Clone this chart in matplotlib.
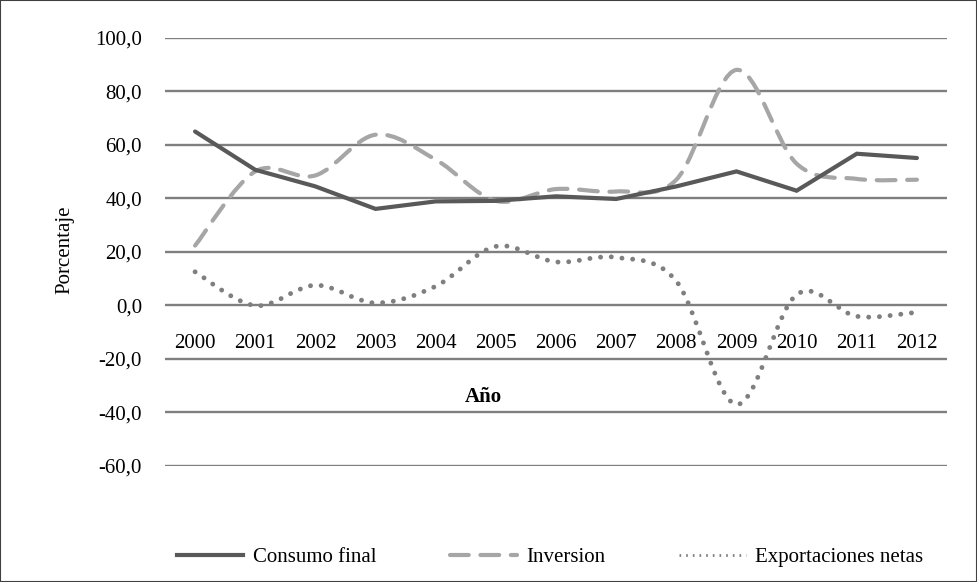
import numpy as np
import matplotlib
matplotlib.use("Agg")
import matplotlib.pyplot as plt
from matplotlib.path import Path
from matplotlib.patches import PathPatch, Rectangle
from matplotlib.lines import Line2D
from matplotlib.ticker import FuncFormatter, FixedLocator

years = ["2000", "2001", "2002", "2003", "2004", "2005", "2006",
         "2007", "2008", "2009", "2010", "2011", "2012"]
consumo = [64.9, 50.6, 44.4, 36.0, 38.8, 39.0, 40.7, 39.7, 44.4, 50.0, 42.8, 56.6, 55.0]
inversion = [22.3, 50.0, 48.5, 63.7, 54.4, 39.0, 43.4, 42.5, 46.9, 87.9, 52.9, 47.2, 46.9]
exportaciones = [12.5, -0.1, 7.5, 0.9, 7.1, 22.0, 16.2, 17.9, 9.0, -37.0, 4.0, -4.1, -2.6]

plt.rcParams['font.family'] = ['Liberation Serif', 'DejaVu Serif']
fs = 15


def smooth_path(xs, ys):
    # Bezier path through the points, like an Excel "smoothed line"
    pts = np.column_stack([xs, ys]).astype(float)
    n = len(pts)
    verts = [pts[0]]
    codes = [Path.MOVETO]
    for i in range(n - 1):
        p0 = pts[max(i - 1, 0)]
        p1 = pts[i]
        p2 = pts[i + 1]
        p3 = pts[min(i + 2, n - 1)]
        c1 = p1 + (p2 - p0) / 6.0
        c2 = p2 - (p3 - p1) / 6.0
        verts += [c1, c2, p2]
        codes += [Path.CURVE4] * 3
    return Path(verts, codes)


fig = plt.figure(figsize=(9.77, 5.82), dpi=100)
ax = fig.add_axes([165 / 977, 1 - 466 / 582, 782 / 977, (466 - 37.5) / 582])

x = np.arange(len(years))

grid_c = '#7f7f7f'
for v in range(-60, 101, 20):
    ax.axhline(v, color=grid_c, lw=1.7, zorder=1)

c_cons = '#595959'
c_inv = '#a6a6a6'
c_exp = '#7f7f7f'
lw = 3.0
dash_inv = (0, (4.5, 2.8))
dot_exp = (0, (0.01, 2.2))

ax.plot(x, consumo, color=c_cons, lw=lw, solid_capstyle='round',
        solid_joinstyle='miter', zorder=4)

p_inv = PathPatch(smooth_path(x, inversion), facecolor='none', edgecolor=c_inv,
                  lw=lw, linestyle=dash_inv, capstyle='round', zorder=3)
ax.add_patch(p_inv)
p_exp = PathPatch(smooth_path(x, exportaciones), facecolor='none', edgecolor=c_exp,
                  lw=3.5, linestyle=dot_exp, capstyle='round', zorder=3)
ax.add_patch(p_exp)

ax.set_xlim(-0.5, len(years) - 0.5)
ax.set_ylim(-60, 100)

ax.yaxis.set_major_locator(FixedLocator(range(-60, 101, 20)))
ax.yaxis.set_major_formatter(FuncFormatter(lambda v, p: f"{v:.1f}".replace('.', ',')))
ax.set_xticks(x)
ax.set_xticklabels(years)
ax.spines['bottom'].set_position(('data', 0))
for s in ax.spines.values():
    s.set_visible(False)
ax.tick_params(axis='y', length=0, pad=16.5, labelsize=fs, colors='black')
ax.tick_params(axis='x', length=0, pad=21, labelsize=fs, colors='black')

fig.text(65 / 977, 1 - 250 / 582, 'Porcentaje', rotation=90, ha='center', va='center',
         fontsize=fs)
fig.text(483 / 977, 1 - 397 / 582, 'Año', ha='center', va='center',
         fontsize=fs, fontweight='bold')

handles = [
    Line2D([], [], color=c_cons, lw=lw),
    Line2D([], [], color=c_inv, lw=lw, linestyle=dash_inv, dash_capstyle='round'),
    Line2D([], [], color=c_exp, lw=2.0, linestyle=(0, (0.6, 1.8))),
]
fig.legend(handles, ['Consumo final', 'Inversion', 'Exportaciones netas'],
           loc='center', bbox_to_anchor=(550 / 977, 1 - 557 / 582), ncol=3,
           frameon=False, fontsize=fs, handlelength=3.2, handletextpad=0.45,
           columnspacing=3.55)

fig.patches.append(Rectangle((0, 0), 1, 1, transform=fig.transFigure, fill=False,
                             edgecolor='#404040', lw=1.5))

fig.savefig('out.png', dpi=100)
